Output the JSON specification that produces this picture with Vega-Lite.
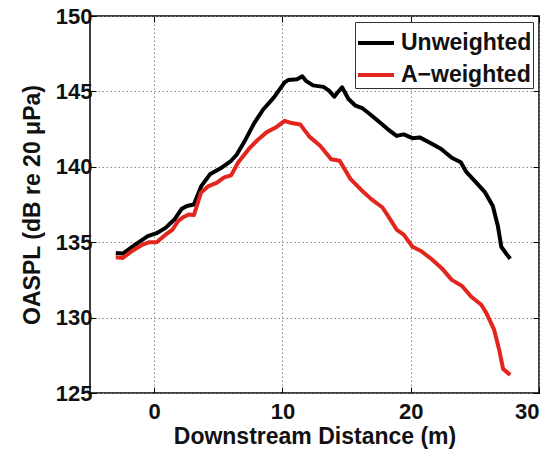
{
  "$schema": "https://vega.github.io/schema/vega-lite/v6.json",
  "autosize": "none",
  "padding": {"left": 90, "top": 16, "right": 18, "bottom": 56},
  "width": 449,
  "height": 377,
  "background": "white",
  "config": {
    "view": {"stroke": "#000", "strokeWidth": 1.5},
    "font": "Liberation Sans",
    "axis": {
      "labelFont": "Liberation Sans", "labelFontWeight": "bold", "labelFontSize": 22, "labelColor": "#111",
      "titleFont": "Liberation Sans", "titleFontWeight": "bold", "titleFontSize": 23, "titleColor": "#111",
      "domain": false, "tickColor": "#000", "tickSize": -6, "tickWidth": 1,
      "gridColor": "#8a8a8a", "gridDash": [1.5, 2.5], "gridWidth": 1
    }
  },
  "data": {"values": [
    {"x": -2.99, "y": 134.29, "s": "Unweighted"},
    {"x": -2.44, "y": 134.25, "s": "Unweighted"},
    {"x": -1.47, "y": 134.84, "s": "Unweighted"},
    {"x": -0.5, "y": 135.4, "s": "Unweighted"},
    {"x": 0.19, "y": 135.6, "s": "Unweighted"},
    {"x": 0.89, "y": 135.95, "s": "Unweighted"},
    {"x": 1.58, "y": 136.5, "s": "Unweighted"},
    {"x": 2.13, "y": 137.2, "s": "Unweighted"},
    {"x": 2.55, "y": 137.4, "s": "Unweighted"},
    {"x": 3.1, "y": 137.5, "s": "Unweighted"},
    {"x": 3.66, "y": 138.7, "s": "Unweighted"},
    {"x": 4.35, "y": 139.5, "s": "Unweighted"},
    {"x": 5.18, "y": 139.9, "s": "Unweighted"},
    {"x": 6.0, "y": 140.4, "s": "Unweighted"},
    {"x": 6.43, "y": 140.8, "s": "Unweighted"},
    {"x": 7.12, "y": 141.8, "s": "Unweighted"},
    {"x": 7.8, "y": 142.9, "s": "Unweighted"},
    {"x": 8.5, "y": 143.8, "s": "Unweighted"},
    {"x": 9.34, "y": 144.6, "s": "Unweighted"},
    {"x": 10.17, "y": 145.6, "s": "Unweighted"},
    {"x": 10.44, "y": 145.75, "s": "Unweighted"},
    {"x": 11.14, "y": 145.8, "s": "Unweighted"},
    {"x": 11.55, "y": 146.0, "s": "Unweighted"},
    {"x": 11.83, "y": 145.7, "s": "Unweighted"},
    {"x": 12.38, "y": 145.4, "s": "Unweighted"},
    {"x": 13.2, "y": 145.3, "s": "Unweighted"},
    {"x": 13.63, "y": 145.05, "s": "Unweighted"},
    {"x": 14.04, "y": 144.65, "s": "Unweighted"},
    {"x": 14.3, "y": 144.93, "s": "Unweighted"},
    {"x": 14.65, "y": 145.27, "s": "Unweighted"},
    {"x": 15.15, "y": 144.5, "s": "Unweighted"},
    {"x": 15.7, "y": 144.05, "s": "Unweighted"},
    {"x": 16.26, "y": 143.87, "s": "Unweighted"},
    {"x": 16.95, "y": 143.4, "s": "Unweighted"},
    {"x": 17.65, "y": 142.9, "s": "Unweighted"},
    {"x": 18.2, "y": 142.5, "s": "Unweighted"},
    {"x": 18.9, "y": 142.05, "s": "Unweighted"},
    {"x": 19.45, "y": 142.15, "s": "Unweighted"},
    {"x": 20.14, "y": 141.9, "s": "Unweighted"},
    {"x": 20.7, "y": 141.95, "s": "Unweighted"},
    {"x": 21.5, "y": 141.6, "s": "Unweighted"},
    {"x": 22.35, "y": 141.2, "s": "Unweighted"},
    {"x": 23.2, "y": 140.6, "s": "Unweighted"},
    {"x": 23.9, "y": 140.3, "s": "Unweighted"},
    {"x": 24.3, "y": 139.7, "s": "Unweighted"},
    {"x": 25.0, "y": 139.05, "s": "Unweighted"},
    {"x": 25.8, "y": 138.3, "s": "Unweighted"},
    {"x": 26.4, "y": 137.4, "s": "Unweighted"},
    {"x": 26.8, "y": 136.05, "s": "Unweighted"},
    {"x": 27.06, "y": 134.7, "s": "Unweighted"},
    {"x": 27.48, "y": 134.2, "s": "Unweighted"},
    {"x": 27.76, "y": 133.9, "s": "Unweighted"},
    {"x": -2.99, "y": 134.0, "s": "A−weighted"},
    {"x": -2.44, "y": 133.96, "s": "A−weighted"},
    {"x": -1.75, "y": 134.4, "s": "A−weighted"},
    {"x": -0.9, "y": 134.84, "s": "A−weighted"},
    {"x": -0.36, "y": 135.0, "s": "A−weighted"},
    {"x": 0.19, "y": 135.0, "s": "A−weighted"},
    {"x": 0.89, "y": 135.5, "s": "A−weighted"},
    {"x": 1.44, "y": 135.84, "s": "A−weighted"},
    {"x": 1.86, "y": 136.4, "s": "A−weighted"},
    {"x": 2.27, "y": 136.66, "s": "A−weighted"},
    {"x": 2.69, "y": 136.84, "s": "A−weighted"},
    {"x": 3.1, "y": 136.8, "s": "A−weighted"},
    {"x": 3.66, "y": 138.3, "s": "A−weighted"},
    {"x": 4.2, "y": 138.7, "s": "A−weighted"},
    {"x": 4.9, "y": 138.95, "s": "A−weighted"},
    {"x": 5.46, "y": 139.3, "s": "A−weighted"},
    {"x": 6.0, "y": 139.43, "s": "A−weighted"},
    {"x": 6.56, "y": 140.3, "s": "A−weighted"},
    {"x": 7.4, "y": 141.2, "s": "A−weighted"},
    {"x": 8.09, "y": 141.8, "s": "A−weighted"},
    {"x": 8.78, "y": 142.3, "s": "A−weighted"},
    {"x": 9.47, "y": 142.6, "s": "A−weighted"},
    {"x": 10.17, "y": 143.05, "s": "A−weighted"},
    {"x": 10.72, "y": 142.9, "s": "A−weighted"},
    {"x": 11.4, "y": 142.8, "s": "A−weighted"},
    {"x": 12.1, "y": 142.0, "s": "A−weighted"},
    {"x": 12.94, "y": 141.4, "s": "A−weighted"},
    {"x": 13.8, "y": 140.5, "s": "A−weighted"},
    {"x": 14.46, "y": 140.4, "s": "A−weighted"},
    {"x": 15.3, "y": 139.2, "s": "A−weighted"},
    {"x": 16.1, "y": 138.5, "s": "A−weighted"},
    {"x": 16.95, "y": 137.84, "s": "A−weighted"},
    {"x": 17.8, "y": 137.3, "s": "A−weighted"},
    {"x": 18.34, "y": 136.6, "s": "A−weighted"},
    {"x": 18.9, "y": 135.84, "s": "A−weighted"},
    {"x": 19.45, "y": 135.5, "s": "A−weighted"},
    {"x": 20.14, "y": 134.7, "s": "A−weighted"},
    {"x": 20.83, "y": 134.4, "s": "A−weighted"},
    {"x": 21.66, "y": 133.85, "s": "A−weighted"},
    {"x": 22.5, "y": 133.2, "s": "A−weighted"},
    {"x": 23.2, "y": 132.5, "s": "A−weighted"},
    {"x": 24.0, "y": 132.1, "s": "A−weighted"},
    {"x": 24.7, "y": 131.4, "s": "A−weighted"},
    {"x": 25.5, "y": 130.85, "s": "A−weighted"},
    {"x": 25.9, "y": 130.3, "s": "A−weighted"},
    {"x": 26.5, "y": 129.2, "s": "A−weighted"},
    {"x": 26.9, "y": 127.85, "s": "A−weighted"},
    {"x": 27.2, "y": 126.6, "s": "A−weighted"},
    {"x": 27.76, "y": 126.2, "s": "A−weighted"}
  ]},
  "resolve": {"axis": {"x": "independent", "y": "independent"}},
  "layer": [
    {
      "mark": {"type": "line", "strokeWidth": 4, "strokeJoin": "round", "strokeCap": "butt", "clip": true},
      "encoding": {
        "x": {"field": "x", "type": "quantitative",
              "scale": {"domain": [-5, 30], "nice": false, "zero": false},
              "axis": {"values": [0, 10, 20, 30], "title": "Downstream Distance (m)", "labelPadding": 14, "titlePadding": 3, "grid": true}},
        "y": {"field": "y", "type": "quantitative",
              "scale": {"domain": [125, 150], "nice": false, "zero": false},
              "axis": {"values": [125, 130, 135, 140, 145, 150], "title": "OASPL (dB re 20 μPa)", "labelPadding": 4, "titlePadding": 11, "grid": true}},
        "color": {"field": "s", "type": "nominal", "sort": null,
                  "scale": {"domain": ["Unweighted", "A−weighted"], "range": ["#000000", "#e3261d"]},
                  "legend": {"title": null, "orient": "top-right", "offset": 6,
                             "symbolType": "stroke", "symbolSize": 1296, "symbolStrokeWidth": 4,
                             "labelFont": "Liberation Sans", "labelFontWeight": "bold", "labelFontSize": 23, "labelColor": "#111",
                             "labelOffset": 5, "rowPadding": -14, "padding": 1,
                             "strokeColor": "#333", "fillColor": "#ffffff"}},
        "order": {"field": "x", "type": "quantitative"}
      }
    },
    {
      "mark": {"type": "line", "strokeOpacity": 0},
      "encoding": {
        "x": {"field": "x", "type": "quantitative",
              "scale": {"domain": [-5, 30], "nice": false, "zero": false},
              "axis": {"orient": "top", "values": [0, 10, 20, 30], "labels": false, "title": null, "grid": false}},
        "y": {"field": "y", "type": "quantitative",
              "scale": {"domain": [125, 150], "nice": false, "zero": false},
              "axis": {"orient": "right", "values": [125, 130, 135, 140, 145, 150], "labels": false, "title": null, "grid": false}},
        "detail": {"field": "s", "type": "nominal"}
      }
    }
  ]
}
